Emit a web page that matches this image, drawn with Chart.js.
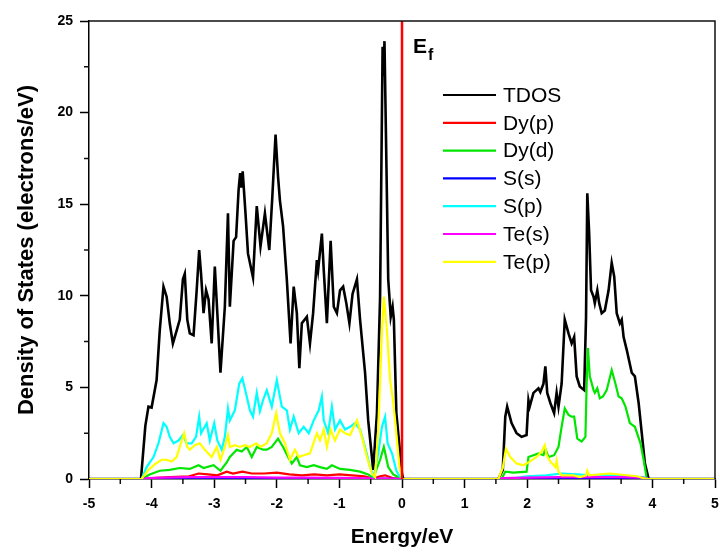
<!DOCTYPE html>
<html>
<head>
<meta charset="utf-8">
<script src="https://cdn.jsdelivr.net/npm/chart.js@4.4.1/dist/chart.umd.min.js"></script>
<style>
  html, body { margin: 0; padding: 0; background: #fff; }
</style>
</head>
<body>
<canvas id="dos" width="720" height="552"></canvas>
<script>
// projected density of states, [energy (eV), states/eV]
const tdos = [[-5,0],[-4.17,0],[-4.1,2.9],[-4.05,3.95],[-4.0,3.9],[-3.92,5.4],[-3.87,8.1],[-3.81,10.5],[-3.76,9.95],[-3.71,8.5],[-3.66,7.4],[-3.6,8.1],[-3.55,8.7],[-3.5,10.9],[-3.47,11.2],[-3.43,8.7],[-3.39,7.95],[-3.33,7.85],[-3.28,10.3],[-3.24,12.5],[-3.21,11.2],[-3.17,9.05],[-3.13,10.3],[-3.09,9.8],[-3.04,7.4],[-2.99,11.6],[-2.95,9.05],[-2.9,5.8],[-2.83,9.4],[-2.78,14.5],[-2.75,9.4],[-2.69,13.0],[-2.65,13.2],[-2.61,15.8],[-2.585,16.7],[-2.565,15.9],[-2.545,16.8],[-2.5,14.5],[-2.46,12.3],[-2.38,11.0],[-2.32,14.9],[-2.26,12.7],[-2.19,14.5],[-2.12,12.5],[-2.07,15.5],[-2.02,18.8],[-1.98,16.5],[-1.95,15.2],[-1.9,13.8],[-1.84,10.9],[-1.78,7.4],[-1.73,10.5],[-1.68,9.05],[-1.64,6.05],[-1.6,8.5],[-1.52,8.85],[-1.47,7.4],[-1.42,9.05],[-1.36,11.95],[-1.34,11.4],[-1.28,13.4],[-1.25,11.4],[-1.2,8.5],[-1.14,13.0],[-1.09,9.4],[-1.04,9.05],[-0.99,10.3],[-0.94,10.5],[-0.89,9.6],[-0.84,8.5],[-0.79,10.1],[-0.72,10.9],[-0.67,8.7],[-0.59,5.8],[-0.54,3.2],[-0.46,0.5],[-0.4,3.6],[-0.35,9.95],[-0.31,23.6],[-0.295,22.0],[-0.28,23.9],[-0.22,10.9],[-0.18,8.85],[-0.15,9.4],[-0.13,8.7],[-0.09,3.6],[0.0,0.3],[0.02,0],
  [1.54,0],[1.61,0.5],[1.65,3.4],[1.68,3.95],[1.75,3.05],[1.83,2.5],[1.91,2.3],[1.99,2.4],[2.02,4.3],[2.04,3.95],[2.1,4.7],[2.18,4.95],[2.21,4.75],[2.26,5.2],[2.29,6.15],[2.32,4.7],[2.37,4.15],[2.43,3.6],[2.47,4.7],[2.5,3.95],[2.55,5.2],[2.6,8.7],[2.66,7.95],[2.71,7.4],[2.75,7.75],[2.79,5.6],[2.84,5.05],[2.91,4.85],[2.94,8.85],[2.96,15.6],[2.99,13.4],[3.02,10.3],[3.06,9.95],[3.08,9.6],[3.12,10.3],[3.15,9.6],[3.19,9.05],[3.24,9.2],[3.3,10.3],[3.35,11.8],[3.39,11.05],[3.43,9.05],[3.48,8.5],[3.51,8.7],[3.54,7.75],[3.59,7.05],[3.67,5.8],[3.72,5.6],[3.78,4.15],[3.83,2.5],[3.88,0.85],[3.94,0],[5,0]];

const dyP = [[-5,0],[-4.16,0],[-4.0,0.05],[-3.7,0.1],[-3.4,0.15],[-3.25,0.3],[-3.1,0.25],[-2.95,0.2],[-2.8,0.4],[-2.7,0.3],[-2.55,0.4],[-2.4,0.3],[-2.2,0.3],[-2.0,0.35],[-1.8,0.25],[-1.6,0.2],[-1.4,0.25],[-1.2,0.2],[-1.0,0.25],[-0.8,0.2],[-0.6,0.15],[-0.46,0.02],[-0.35,0.15],[-0.27,0.2],[-0.15,0.05],[0,0],
  [1.55,0],[1.65,0.03],[2.5,0.04],[3.5,0.04],[3.92,0],[5,0]];

const dyD = [[-5,0],[-4.16,0],[-4.03,0.25],[-3.87,0.45],[-3.71,0.5],[-3.55,0.6],[-3.39,0.55],[-3.25,0.75],[-3.17,0.6],[-3.01,0.75],[-2.9,0.45],[-2.8,0.9],[-2.75,1.2],[-2.64,1.6],[-2.56,1.5],[-2.48,1.75],[-2.4,1.2],[-2.32,1.75],[-2.22,1.6],[-2.16,1.6],[-2.08,1.75],[-1.98,2.2],[-1.9,1.75],[-1.82,1.2],[-1.76,0.85],[-1.68,1.2],[-1.63,0.75],[-1.52,0.65],[-1.41,0.75],[-1.31,0.65],[-1.2,0.55],[-1.12,0.75],[-0.99,0.55],[-0.83,0.5],[-0.67,0.4],[-0.54,0.25],[-0.46,0.05],[-0.35,1.05],[-0.29,1.75],[-0.22,0.65],[-0.14,0.25],[-0.03,0.05],[0,0],
  [1.59,0],[1.65,0.4],[1.78,0.35],[1.99,0.4],[2.02,1.2],[2.1,1.3],[2.18,1.4],[2.26,1.3],[2.29,1.65],[2.34,1.2],[2.43,1.3],[2.5,1.75],[2.55,2.85],[2.6,3.85],[2.66,3.5],[2.71,3.4],[2.75,3.4],[2.8,2.2],[2.87,2.05],[2.93,2.3],[2.95,5.2],[2.97,7.15],[3.0,5.6],[3.06,4.85],[3.08,4.7],[3.12,4.95],[3.16,4.4],[3.21,4.5],[3.27,4.85],[3.35,5.95],[3.41,5.2],[3.46,4.5],[3.51,4.4],[3.57,3.95],[3.64,3.05],[3.72,2.85],[3.81,1.95],[3.86,1.05],[3.91,0],[5,0]];

const sS = [[-5,0],[-4.16,0],[-4.0,0.03],[-2.5,0.04],[-1.0,0.03],[-0.46,0],[-0.3,0.02],[0,0],
  [1.55,0],[1.7,0.02],[3.0,0.02],[3.9,0],[5,0]];

const sP = [[-5,0],[-4.16,0],[-4.08,0.65],[-3.97,1.2],[-3.89,1.95],[-3.81,3.05],[-3.76,2.85],[-3.71,2.3],[-3.65,1.95],[-3.57,2.1],[-3.5,2.4],[-3.44,1.95],[-3.36,1.95],[-3.29,2.3],[-3.24,3.4],[-3.21,2.5],[-3.12,3.05],[-3.07,2.1],[-3.0,3.05],[-2.95,2.1],[-2.88,1.6],[-2.83,2.3],[-2.78,3.85],[-2.75,3.2],[-2.67,3.75],[-2.6,5.2],[-2.55,5.5],[-2.48,4.5],[-2.43,3.75],[-2.38,3.4],[-2.32,4.7],[-2.27,3.7],[-2.22,4.3],[-2.16,4.85],[-2.08,3.95],[-2.0,5.4],[-1.92,3.95],[-1.84,3.75],[-1.79,2.7],[-1.73,3.4],[-1.65,2.5],[-1.57,2.85],[-1.49,2.5],[-1.41,3.2],[-1.33,3.75],[-1.28,4.5],[-1.25,3.2],[-1.18,2.5],[-1.12,3.95],[-1.07,2.7],[-0.99,3.2],[-0.91,2.7],[-0.83,2.85],[-0.75,3.05],[-0.67,2.7],[-0.59,1.75],[-0.51,0.65],[-0.45,0.1],[-0.38,1.4],[-0.32,2.85],[-0.27,3.4],[-0.23,1.95],[-0.16,1.4],[-0.09,0.45],[-0.03,0.1],[0,0],
  [1.55,0],[1.6,0.05],[1.8,0.05],[2.0,0.15],[2.3,0.2],[2.55,0.3],[2.8,0.25],[3.0,0.2],[3.3,0.2],[3.6,0.15],[3.85,0.1],[3.94,0],[5,0]];

const teS = [[-5,0],[-4.16,0],[-4.05,0.05],[-3.8,0.08],[-3.4,0.1],[-3.0,0.1],[-2.5,0.1],[-2.0,0.08],[-1.5,0.07],[-1.0,0.06],[-0.5,0.03],[-0.45,0],[-0.3,0.04],[0,0],
  [1.54,0],[1.6,0.05],[2.0,0.08],[2.5,0.1],[3.0,0.1],[3.5,0.1],[3.85,0.08],[3.94,0],[5,0]];

const teP = [[-5,0],[-4.16,0],[-4.05,0.5],[-3.95,0.8],[-3.84,1.05],[-3.76,1.05],[-3.68,0.95],[-3.6,1.2],[-3.55,1.75],[-3.48,2.5],[-3.43,1.75],[-3.39,1.6],[-3.31,1.85],[-3.23,1.95],[-3.15,1.6],[-3.04,1.2],[-2.96,1.75],[-2.9,1.05],[-2.83,1.75],[-2.78,2.4],[-2.75,1.75],[-2.67,1.85],[-2.59,1.75],[-2.51,1.85],[-2.43,1.75],[-2.33,1.95],[-2.26,1.75],[-2.16,1.95],[-2.08,2.5],[-2.01,3.6],[-1.95,2.5],[-1.87,1.95],[-1.79,1.05],[-1.71,1.6],[-1.65,1.2],[-1.57,1.3],[-1.47,1.4],[-1.36,2.5],[-1.31,2.1],[-1.25,2.7],[-1.2,1.75],[-1.14,2.7],[-1.07,2.1],[-0.99,2.7],[-0.91,2.5],[-0.83,2.4],[-0.72,3.2],[-0.64,2.3],[-0.56,1.2],[-0.48,0.3],[-0.43,0.1],[-0.38,2.7],[-0.32,8.1],[-0.29,9.95],[-0.24,8.1],[-0.19,5.4],[-0.15,4.5],[-0.11,3.2],[-0.04,0.65],[0,0],
  [1.54,0],[1.61,0.6],[1.66,1.65],[1.73,1.2],[1.83,0.85],[1.94,0.75],[2.04,0.95],[2.15,1.2],[2.23,1.5],[2.28,1.85],[2.31,1.3],[2.37,0.95],[2.45,0.65],[2.47,1.0],[2.5,0.4],[2.55,0.2],[2.74,0.2],[2.84,0.1],[2.94,0.2],[2.96,0.45],[2.99,0.2],[3.32,0.3],[3.75,0.15],[3.91,0],[5,0]];

const seriesLabels = ['TDOS', 'Dy(p)', 'Dy(d)', 'S(s)', 'S(p)', 'Te(s)', 'Te(p)'];
const seriesData = [tdos, dyP, dyD, sS, sP, teS, teP];
const seriesColors = ['#000000', '#ff0000', '#00e600', '#0000ff', '#00ffff', '#ff00ff', '#ffff00'];

const fermiLevel = 0;
const energyRange = [-5, 5];
const dosRange = [0, 25];

const FONT = 'Arial, "Liberation Sans", sans-serif';

const datasets = seriesData.map((pts, i) => ({
  label: seriesLabels[i],
  data: pts.map(([x, y]) => ({ x, y })),
  borderColor: seriesColors[i],
  backgroundColor: seriesColors[i],
  borderWidth: i === 0 ? 2.6 : 2.2,
  pointRadius: 0,
  tension: 0,
  fill: false,
  order: seriesLabels.length - i   // later series painted on top
}));

// frame, minor ticks, Fermi level marker and in-plot legend
const decorations = {
  id: 'decorations',
  afterDatasetsDraw(chart) {
    const { ctx, chartArea: a, scales: { x, y } } = chart;
    ctx.save();

    // Fermi level
    const xf = x.getPixelForValue(fermiLevel);
    ctx.strokeStyle = '#ff0000';
    ctx.lineWidth = 2.5;
    ctx.beginPath();
    ctx.moveTo(xf, y.getPixelForValue(dosRange[0]));
    ctx.lineTo(xf, y.getPixelForValue(dosRange[1]));
    ctx.stroke();

    ctx.fillStyle = '#000';
    ctx.textBaseline = 'alphabetic';
    ctx.font = 'bold 21px ' + FONT;
    ctx.fillText('E', xf + 11, a.top + 32);
    const ew = ctx.measureText('E').width;
    ctx.font = 'bold 16px ' + FONT;
    ctx.fillText('f', xf + 12 + ew, a.top + 39);

    // top and right frame
    ctx.strokeStyle = '#111';
    ctx.lineWidth = 1.5;
    ctx.beginPath();
    ctx.moveTo(a.left, a.top);
    ctx.lineTo(a.right, a.top);
    ctx.lineTo(a.right, a.bottom);
    ctx.stroke();

    // minor ticks
    ctx.beginPath();
    for (let v = energyRange[0] + 0.5; v < energyRange[1]; v += 1) {
      const px = x.getPixelForValue(v);
      ctx.moveTo(px, a.bottom);
      ctx.lineTo(px, a.bottom + 5);
    }
    for (let v = dosRange[0] + 2.5; v < dosRange[1]; v += 5) {
      const py = y.getPixelForValue(v);
      ctx.moveTo(a.left - 5, py);
      ctx.lineTo(a.left, py);
    }
    ctx.stroke();

    // legend
    const lx = 443, ly = 95, gap = 27.8;
    ctx.font = '21px ' + FONT;
    ctx.textBaseline = 'middle';
    chart.data.datasets.forEach((ds, i) => {
      const yy = ly + i * gap;
      ctx.strokeStyle = ds.borderColor;
      ctx.lineWidth = 2.2;
      ctx.beginPath();
      ctx.moveTo(lx, yy);
      ctx.lineTo(lx + 53, yy);
      ctx.stroke();
      ctx.fillStyle = '#000';
      ctx.fillText(ds.label, lx + 60, yy + 1);
    });
    ctx.restore();
  }
};

new Chart(document.getElementById('dos'), {
  type: 'line',
  data: { datasets },
  options: {
    responsive: false,
    animation: false,
    devicePixelRatio: 1,
    layout: { padding: { top: 21, right: 5, left: 0, bottom: 0 } },
    plugins: { legend: { display: false }, tooltip: { enabled: false } },
    scales: {
      x: {
        type: 'linear',
        min: energyRange[0],
        max: energyRange[1],
        ticks: { stepSize: 1, color: '#000', padding: 8, maxRotation: 0, autoSkip: false,
                 font: { family: FONT, size: 14, weight: 'bold' } },
        grid: { drawOnChartArea: false, tickLength: 9, tickColor: '#000', tickWidth: 1.5 },
        border: { color: '#000', width: 1.5 },
        title: { display: true, text: 'Energy/eV', color: '#000', padding: { bottom: 2 },
                 font: { family: FONT, size: 21, weight: 'bold' } },
        afterFit: s => { s.height = 73; s.paddingRight = 0; }
      },
      y: {
        type: 'linear',
        min: dosRange[0],
        max: dosRange[1],
        ticks: { stepSize: 5, color: '#000', padding: 7,
                 font: { family: FONT, size: 14, weight: 'bold' } },
        grid: { drawOnChartArea: false, tickLength: 9, tickColor: '#000', tickWidth: 1.5 },
        border: { color: '#000', width: 1.5 },
        title: { display: true, text: 'Density of States (electrons/eV)', color: '#000', padding: { top: 14 },
                 font: { family: FONT, size: 22, weight: 'bold' } },
        afterFit: s => { s.width = 89; }
      }
    }
  },
  plugins: [decorations]
});
</script>
</body>
</html>
